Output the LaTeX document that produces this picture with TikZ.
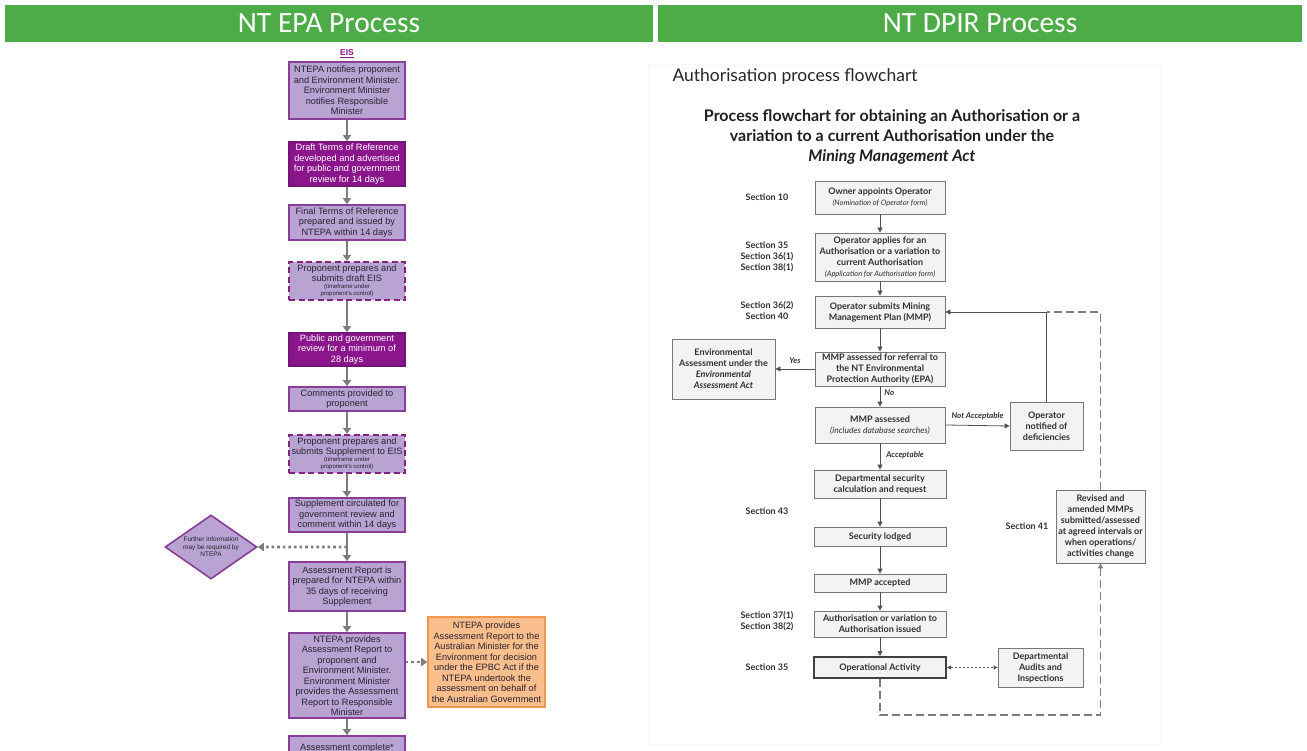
\documentclass[tikz,border=0pt]{standalone}
\usepackage{fontspec}
\setmainfont{Liberation Sans}
\newfontfamily\hdfont{Carlito}
\newfontfamily\mmafont{Lato}
\usepackage{tikz}
\usetikzlibrary{arrows.meta,positioning,shapes.geometric,calc,shadows}
\definecolor{HeadGreen}{RGB}{77,172,71}
\definecolor{EpaFill}{RGB}{185,163,211}
\definecolor{EpaLine}{RGB}{136,62,150}
\definecolor{EpaDark}{RGB}{139,22,139}
\definecolor{EpaDash}{RGB}{128,36,128}
\definecolor{EpaText}{RGB}{40,34,48}
\definecolor{EpaArrow}{RGB}{124,124,124}
\definecolor{OrangeFill}{RGB}{250,190,140}
\definecolor{OrangeLine}{RGB}{242,150,78}
\definecolor{MmaLine}{RGB}{118,118,118}
\definecolor{MmaFill}{RGB}{243,243,243}
\definecolor{MmaText}{RGB}{48,48,48}
\definecolor{MmaArrow}{RGB}{80,80,80}

\newcommand{\epafont}{\fontsize{9.2}{10.5}\selectfont}
\newcommand{\epanote}[1]{{\fontsize{6}{7}\selectfont\begin{tabular}{@{}c@{}}#1\end{tabular}}}
\newcommand{\mmatext}{\mmafont\bfseries\fontsize{9}{11}\selectfont}
\newcommand{\mmanote}{\mdseries\itshape\fontsize{7.5}{9}\selectfont}

\tikzset{
  headbar/.style={fill=HeadGreen, text=white, minimum width=648pt, minimum height=37pt, inner sep=0pt, font=\hdfont\fontsize{29.5}{32}\selectfont},
  epabox/.style={draw=EpaLine, fill=EpaFill, line width=1.6pt, minimum width=116pt, inner sep=1.5pt, align=center, text=EpaText, font=\epafont},
  epadark/.style={epabox, draw=EpaDark!85!black, fill=EpaDark, text=white},
  epadash/.style={epabox, draw=EpaDash, line width=2.2pt, dash pattern=on 6pt off 3.5pt},
  epadiam/.style={diamond, aspect=1.45, draw=EpaLine, fill=EpaFill, line width=1.6pt, minimum width=92pt, minimum height=64pt, inner sep=0pt, align=center, text=EpaText, font=\fontsize{6.5}{7.5}\selectfont},
  epaarrow/.style={draw=EpaArrow, line width=2.6pt, -{Triangle[width=8pt,length=6pt]}},
  epadot/.style={draw=EpaArrow, line width=2.6pt, dash pattern=on 2.6pt off 3pt, -{Triangle[width=8pt,length=6pt]}},
  mmabox/.style={draw=MmaLine, line width=0.8pt, fill=MmaFill, minimum width=130pt, inner sep=2pt, align=center, text=MmaText, font=\mmatext, drop shadow={shadow xshift=1pt, shadow yshift=-1pt, opacity=0.25}},
  mmaarrow/.style={draw=MmaArrow, line width=0.8pt, -{Triangle[width=5pt,length=5pt]}},
  mmadash/.style={draw=MmaArrow!75, line width=1.1pt, dash pattern=on 8pt off 4pt},
  mmadot/.style={draw=MmaArrow, line width=0.8pt, dash pattern=on 2pt off 2pt, {Triangle[width=4pt,length=4pt]}-{Triangle[width=4pt,length=4pt]}},
  mmalabel/.style={font=\mmafont\bfseries\itshape\fontsize{8}{9}\selectfont, text=MmaText, inner sep=1pt},
  seclabel/.style={font=\mmatext, text=MmaText, align=center, inner sep=0pt}
}

\begin{document}
\begin{tikzpicture}[x=1pt,y=-1pt]
  \clip (0,0) rectangle (1307,751);
  \fill[white] (0,0) rectangle (1307,751);

  % Header bars
  \node[headbar] (hepa) at (329,23.5) {NT EPA Process};
  \node[headbar, minimum width=644pt] (hdpir) at (980,23.5) {NT DPIR Process};

  % NT EPA: EIS column
  \node[font=\bfseries\fontsize{8.5}{10}\selectfont, text=EpaDark] (eis) at (347,54) {\underline{EIS}};
  \node[epabox, minimum height=57pt] (b1) at (347,90.5) {NTEPA notifies proponent\\ and Environment Minister.\\ Environment Minister\\ notifies Responsible\\ Minister};
  \node[epadark, minimum height=44pt] (b2) at (347,164) {Draft Terms of Reference\\ developed and advertised\\ for public and government\\ review for 14 days};
  \node[epabox, minimum height=35pt] (b3) at (347,222.5) {Final Terms of Reference\\ prepared and issued by\\ NTEPA within 14 days};
  \node[epadash, minimum height=38pt] (b4) at (347,281) {Proponent prepares and\\ submits draft EIS\\ \epanote{(timeframe under\\ proponent's control)}};
  \node[epadark, minimum height=33pt] (b5) at (347,349.5) {Public and government\\ review for a minimum of\\ 28 days};
  \node[epabox, minimum height=24pt] (b6) at (347,399) {Comments provided to\\ proponent};
  \node[epadash, minimum height=38pt] (b7) at (347,454) {Proponent prepares and\\ submits Supplement to EIS\\ \epanote{(timeframe under\\ proponent's control)}};
  \node[epabox, minimum height=34pt] (b8) at (347,515) {Supplement circulated for\\ government review and\\ comment within 14 days};
  \node[epabox, minimum height=49pt] (b9) at (347,586.5) {Assessment Report is\\ prepared for NTEPA within\\ 35 days of receiving\\ Supplement};
  \node[epabox, minimum height=85pt] (b10) at (347,675.5) {NTEPA provides\\ Assessment Report to\\ proponent and\\ Environment Minister.\\ Environment Minister\\ provides the Assessment\\ Report to Responsible\\ Minister};
  \node[epabox, minimum height=24pt] (b11) at (347,748) {Assessment complete*};
  \node[epadiam] (more) at (211,547) {Further information\\ may be required by\\ NTEPA};
  \node[epabox, draw=OrangeLine, fill=OrangeFill, minimum width=117pt, minimum height=90pt] (epbc) at (486.5,662) {NTEPA provides\\ Assessment Report to the\\ Australian Minister for the\\ Environment for decision\\ under the EPBC Act if the\\ NTEPA undertook the\\ assessment on behalf of\\ the Australian Government};

  \foreach \a/\b in {b1/b2, b2/b3, b3/b4, b4/b5, b5/b6, b6/b7, b7/b8, b8/b9, b9/b10, b10/b11}
    \draw[epaarrow] (\a.south) -- (\b.north);
  \coordinate (fork) at ($(b8.south)!0.5!(b9.north)$);
  \draw[epadot] (fork) -- (more.east);
  \draw[epadot] (b10.east |- epbc.west) -- (epbc.west);

  % NT DPIR: authorisation flowchart
  \draw[black!3] (648,64) rectangle (1160,744);
  \node[anchor=west, font=\mmafont\fontsize{17.5}{20}\selectfont, text=black!85] (authttl) at (669,77) {Authorisation process flowchart};
  \node[align=center, text=black!88, font=\mmafont\bfseries\fontsize{16}{20}\selectfont] (mmattl) at (892,137) {Process flowchart for obtaining an Authorisation or a\\ variation to a current Authorisation under the\\ \textit{Mining Management Act}};

  \node[mmabox, minimum height=33pt] (r1) at (880,197.5) {Owner appoints Operator\\ \mmanote (Nomination of Operator form)};
  \node[mmabox, minimum height=48pt] (r2) at (880,257) {Operator applies for an\\ Authorisation or a variation to\\ current Authorisation\\ \mmanote (Application for Authorisation form)};
  \node[mmabox, minimum height=32pt] (r3) at (880,312) {Operator submits Mining\\ Management Plan (MMP)};
  \node[mmabox, minimum height=34pt] (r4) at (880,369) {MMP assessed for referral to\\ the NT Environmental\\ Protection Authority (EPA)};
  \node[mmabox, minimum height=36pt] (r5) at (880,425) {MMP assessed\\ \itshape\mdseries\fontsize{8.5}{10}\selectfont (includes database searches)};
  \node[mmabox, minimum width=132pt, minimum height=28pt] (r6) at (880,484) {Departmental security\\ calculation and request};
  \node[mmabox, minimum width=132pt, minimum height=19pt] (r7) at (880,536.5) {Security lodged};
  \node[mmabox, minimum width=132pt, minimum height=18pt] (r8) at (880,583) {MMP accepted};
  \node[mmabox, minimum width=132pt, minimum height=26pt] (r9) at (880,624) {Authorisation or variation to\\ Authorisation issued};
  \node[mmabox, minimum width=132pt, minimum height=21pt, line width=2pt, draw=black!75] (r10) at (880,667.5) {Operational Activity};
  \node[mmabox, minimum width=103pt, minimum height=60pt] (env) at (723.5,369) {Environmental\\ Assessment under the\\ \textit{Environmental}\\ \textit{Assessment Act}};
  \node[mmabox, minimum width=73pt, minimum height=48pt] (oper) at (1046.5,426) {Operator\\ notified of\\ deficiencies};
  \node[mmabox, minimum width=85pt, minimum height=39pt] (audit) at (1040.5,667.5) {Departmental\\ Audits and\\ Inspections};
  \node[mmabox, minimum width=89pt, minimum height=73pt] (rev) at (1100.5,526.5) {Revised and\\ amended MMPs\\ submitted/assessed\\ at agreed intervals or\\ when operations/\\ activities change};

  % Section labels
  \foreach \i/\y/\s in {10/197.5/{Section 10}, 35/257/{Section 35\\ Section 36(1)\\ Section 38(1)}, 36/311/{Section 36(2)\\ Section 40}, 43/511/{Section 43}, 37/621.5/{Section 37(1)\\ Section 38(2)}, 35b/667/{Section 35}}
    \node[seclabel] (sec\i) at (767,\y) {\s};
  \node[seclabel] (sec41) at (1027,526) {Section 41};

  % Connectors
  \foreach \a/\b in {r1/r2, r2/r3, r3/r4, r6/r7, r7/r8, r8/r9, r9/r10}
    \draw[mmaarrow] (\a.south) -- (\b.north);
  \draw[mmaarrow] (r4.south) -- node[mmalabel, right=3pt, pos=0.3] {No} (r5.north);
  \draw[mmaarrow] (r5.south) -- node[mmalabel, right=5pt, pos=0.45] {Acceptable} (r6.north);
  \draw[mmaarrow] (r4.west) -- node[mmalabel, above=4pt] {Yes} (env.east);
  \draw[mmaarrow] (r5.east) -- node[mmalabel, above=4pt] {Not Acceptable} (oper.west);
  \coordinate (join) at (oper.north |- r3.east);
  \draw[mmaarrow] (oper.north) -- (join) -- (r3.east);
  \draw[mmadash] (rev.north) |- (join);
  \draw[mmadash, -{Triangle[width=5pt,length=5pt]}] (r10.south) -- ++(0,36) -| (rev.south);
  \draw[mmadot] (r10.east) -- (audit.west);
\end{tikzpicture}
\end{document}
